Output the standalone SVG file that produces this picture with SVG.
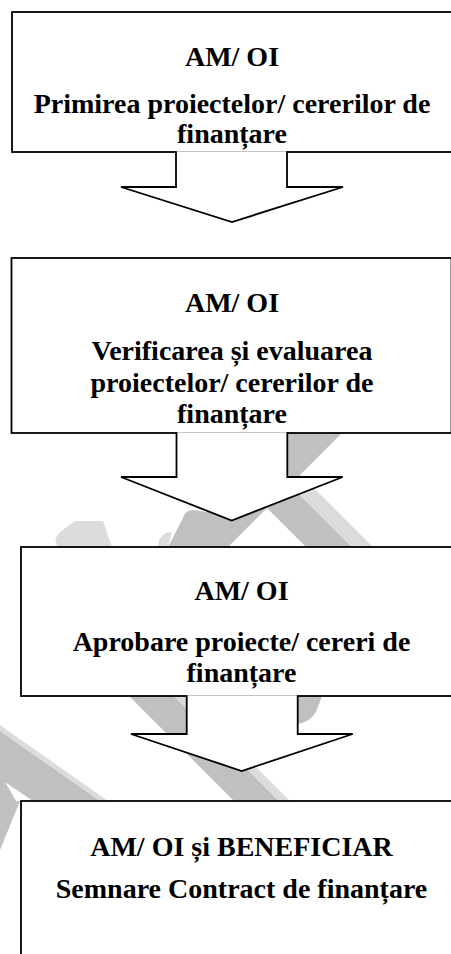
<svg xmlns="http://www.w3.org/2000/svg" width="451" height="954" viewBox="0 0 451 954">
<style>
.box{fill:#fff;stroke:#000;stroke-width:1.8}
.arr{fill:#fff;stroke:#000;stroke-width:1.8;stroke-linejoin:miter}
.t{font-family:"Liberation Serif","Times New Roman",serif;font-weight:bold;font-size:28px;text-anchor:middle;fill:#000}
.wd{fill:#c0c0c0}
.wl{fill:#dcdcdc}
</style>
<rect width="451" height="954" fill="#fff"/>
<g id="watermark">
<polygon class="wd" points="199,440 245,440 425,620 379,620"/>
<polygon class="wl" points="245,440 266,440 446,620 425,620"/>
<polygon class="wd" points="338,380 395,380 135,640 78,640"/>
<path class="wd" d="M183,518 Q185,510 194,510 L218,514 L228,547 L168,547 Z"/>
<path class="wl" d="M158,547 Q158,537 166,533 L172,532 L168,547 Z"/>
<path class="wl" d="M58,547 Q52,540 60,532 L75,521 L103,521 L112,547 Z"/>
<path class="wd" d="M297.7,696 H322 L316,712 Q310,722 297.7,724 Z"/>
<polygon class="wd" points="93,660 138,660 378,900 333,900"/>
<polygon class="wl" points="138,660 149,660 389,900 378,900"/>
<polygon class="wl" points="0,725 108,801 100,801 0,731"/>
<polygon class="wd" points="0,731 100,801 33,801 5,782 16,801 20,801 0,850"/>
</g>
<g id="node1">
<rect class="box" x="12" y="12" width="440" height="140"/>
<text class="t" x="232" y="65.5">AM/ OI</text>
<text class="t" x="232" y="112.5">Primirea proiectelor/ cererilor de</text>
<text class="t" x="232" y="143">finanțare</text>
</g>
<g id="node2">
<rect class="box" x="11.5" y="258" width="440" height="175"/>
<text class="t" x="232" y="312">AM/ OI</text>
<text class="t" x="232" y="360">Verificarea și evaluarea</text>
<text class="t" x="232" y="392">proiectelor/ cererilor de</text>
<text class="t" x="232" y="423">finanțare</text>
</g>
<g id="node3">
<rect class="box" x="21" y="547" width="440" height="149"/>
<text class="t" x="241.5" y="600">AM/ OI</text>
<text class="t" x="241.5" y="651">Aprobare proiecte/ cereri de</text>
<text class="t" x="241.5" y="682">finanțare</text>
</g>
<g id="node4">
<rect class="box" x="21" y="801" width="440" height="200"/>
<text class="t" x="241.5" y="856">AM/ OI și BENEFICIAR</text>
<text class="t" x="241.5" y="898">Semnare Contract de finanțare</text>
</g>
<g id="connectors">
<path class="arr" d="M176,151.2 V187 H121 L232,222 L343,187 H287 V151.2"/>
<path class="arr" d="M176.5,432.2 V477 H121 L231.7,520.5 L342.7,477 H287.3 V432.2"/>
<path class="arr" d="M186.7,695.2 V734 H131 L241.7,771 L352.7,734 H297.7 V695.2"/>
</g>
</svg>
